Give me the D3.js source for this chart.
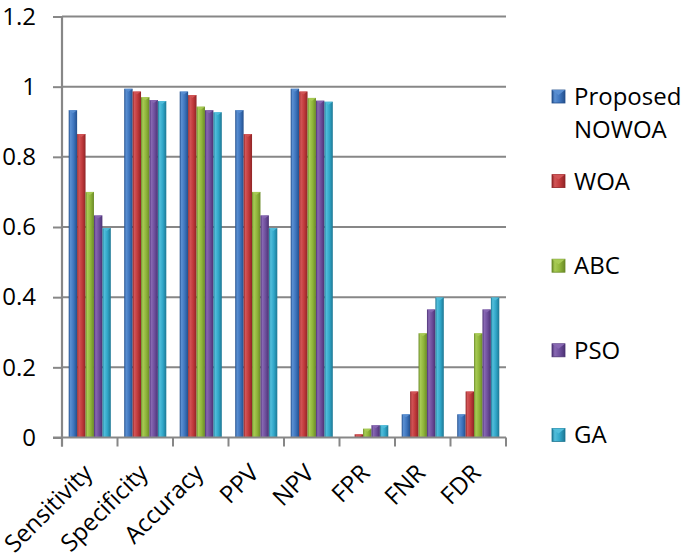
<!DOCTYPE html>
<html>
<head>
<meta charset="utf-8">
<script src="https://cdn.jsdelivr.net/npm/d3@7"></script>
<style>
  html, body { margin: 0; padding: 0; background: #ffffff; }
  svg { display: block; }
  text { font-family: "Open Sans", sans-serif; fill: #000; }
</style>
</head>
<body>
<svg id="chart" width="685" height="556"></svg>
<script>
const categories = ["Sensitivity", "Specificity", "Accuracy", "PPV", "NPV", "FPR", "FNR", "FDR"];
const seriesNames = ["Proposed NOWOA", "WOA", "ABC", "PSO", "GA"];
const proposedNOWOA = [0.933, 0.994, 0.986, 0.933, 0.994, 0.000, 0.066, 0.066];
const woa           = [0.865, 0.986, 0.976, 0.865, 0.986, 0.009, 0.131, 0.131];
const abc           = [0.700, 0.970, 0.943, 0.700, 0.968, 0.025, 0.297, 0.297];
const pso           = [0.633, 0.962, 0.933, 0.633, 0.960, 0.035, 0.365, 0.365];
const ga            = [0.597, 0.959, 0.927, 0.597, 0.957, 0.035, 0.399, 0.399];
const yTicks = [0, 0.2, 0.4, 0.6, 0.8, 1, 1.2];
const yTickLabels = ["0", "0.2", "0.4", "0.6", "0.8", "1", "1.2"];

const seriesValues = [proposedNOWOA, woa, abc, pso, ga];
const colors = [
  {dark: "#234f8c", mid: "#3d74bd", light: "#5a8fd2"},
  {dark: "#8f2426", mid: "#c0393b", light: "#d25557"},
  {dark: "#6a8a27", mid: "#8fb53a", light: "#a8cb55"},
  {dark: "#4c3274", mid: "#6d4e9b", light: "#8868b3"},
  {dark: "#1d7793", mid: "#30a6c8", light: "#52bedb"}
];

const svg = d3.select("#chart");
const pLeft = 62, pRight = 506, pTop = 16.5, pBottom = 437.5;

const y = d3.scaleLinear().domain([0, 1.2]).range([pBottom, pTop]);
const x0 = d3.scaleBand().domain(categories).range([pLeft, pRight]).padding(0);
const groupPad = 6.7;
const x1 = d3.scaleBand().domain(seriesNames).range([groupPad, x0.bandwidth() - groupPad]).padding(0);

// gradients
const defs = svg.append("defs");
colors.forEach((c, i) => {
  const g = defs.append("linearGradient").attr("id", "g" + i)
    .attr("x1", "0%").attr("x2", "100%").attr("y1", "0%").attr("y2", "0%");
  g.append("stop").attr("offset", "0%").attr("stop-color", c.dark);
  g.append("stop").attr("offset", "22%").attr("stop-color", c.light);
  g.append("stop").attr("offset", "60%").attr("stop-color", c.mid);
  g.append("stop").attr("offset", "100%").attr("stop-color", c.dark);
});

// gridlines
svg.append("g").selectAll("line").data(yTicks.filter(d => d > 0)).join("line")
  .attr("x1", pLeft).attr("x2", pRight)
  .attr("y1", d => y(d)).attr("y2", d => y(d))
  .attr("stroke", "#878787").attr("stroke-width", 2);

// bars
const groups = svg.append("g").selectAll("g").data(categories).join("g")
  .attr("transform", d => `translate(${x0(d)},0)`);
groups.each(function(cat, ci) {
  const gsel = d3.select(this);
  seriesNames.forEach((s, si) => {
    const v = seriesValues[si][ci];
    if (v <= 0) return;
    const bx = x1(s), bw = x1.bandwidth();
    gsel.append("rect")
      .attr("x", bx).attr("y", y(v))
      .attr("width", bw).attr("height", y(0) - y(v))
      .attr("fill", `url(#g${si})`);
    const h = Math.min(3, y(0) - y(v));
    gsel.append("path")
      .attr("d", `M${bx},${y(v)} L${bx + bw},${y(v)} L${bx + bw / 2},${y(v) + h} Z`)
      .attr("fill", colors[si].light).attr("opacity", 0.9);
  });
});

// y axis
const yAxis = d3.axisLeft(y).tickValues(yTicks).tickFormat((d, i) => yTickLabels[i]).tickSize(9).tickPadding(17);
const ya = svg.append("g").attr("transform", `translate(${pLeft},0)`).call(yAxis);
ya.select(".domain").attr("stroke", "#878787").attr("stroke-width", 2.2).attr("d", `M0,${pBottom + 9}V${pTop}`);
ya.selectAll(".tick line").attr("stroke", "#878787").attr("stroke-width", 2);
ya.selectAll(".tick text").attr("font-size", 24).attr("font-family", "Open Sans").attr("fill", "#000");

// x axis
const xa = svg.append("g").attr("transform", `translate(0,${pBottom})`);
xa.append("line").attr("x1", pLeft - 9).attr("x2", pRight).attr("y1", 0).attr("y2", 0)
  .attr("stroke", "#878787").attr("stroke-width", 2.2);
const boundaries = categories.map(c => x0(c)).concat([pRight]);
xa.selectAll("line.tk").data(boundaries).join("line").attr("class", "tk")
  .attr("x1", d => d).attr("x2", d => d).attr("y1", 0).attr("y2", 9)
  .attr("stroke", "#878787").attr("stroke-width", 2);
xa.selectAll("text").data(categories).join("text")
  .attr("transform", d => `translate(${x0(d) + x0.bandwidth() / 2 + 4},${37}) rotate(-45)`)
  .attr("text-anchor", "end")
  .attr("font-size", 24)
  .text(d => d);

// legend
const legendRows = [["Proposed", "NOWOA"], ["WOA"], ["ABC"], ["PSO"], ["GA"]];
const lg = svg.append("g");
const rowBase = 105, rowStep = 84.6;
legendRows.forEach((lines, i) => {
  const by = rowBase + i * rowStep;
  lg.append("rect").attr("x", 552).attr("y", by - 15).attr("width", 13).attr("height", 13)
    .attr("fill", `url(#g${i})`).attr("stroke", colors[i].dark).attr("stroke-width", 0.8);
  lg.append("path").attr("d", `M552,${by - 15} L565,${by - 15} L558.5,${by - 10} Z`)
    .attr("fill", colors[i].light);
  const t = lg.append("text").attr("x", 574).attr("y", by).attr("font-size", 24);
  lines.forEach((ln, j) => {
    t.append("tspan").attr("x", 574).attr("dy", j === 0 ? 0 : 33.3).text(ln);
  });
});
</script>
</body>
</html>
